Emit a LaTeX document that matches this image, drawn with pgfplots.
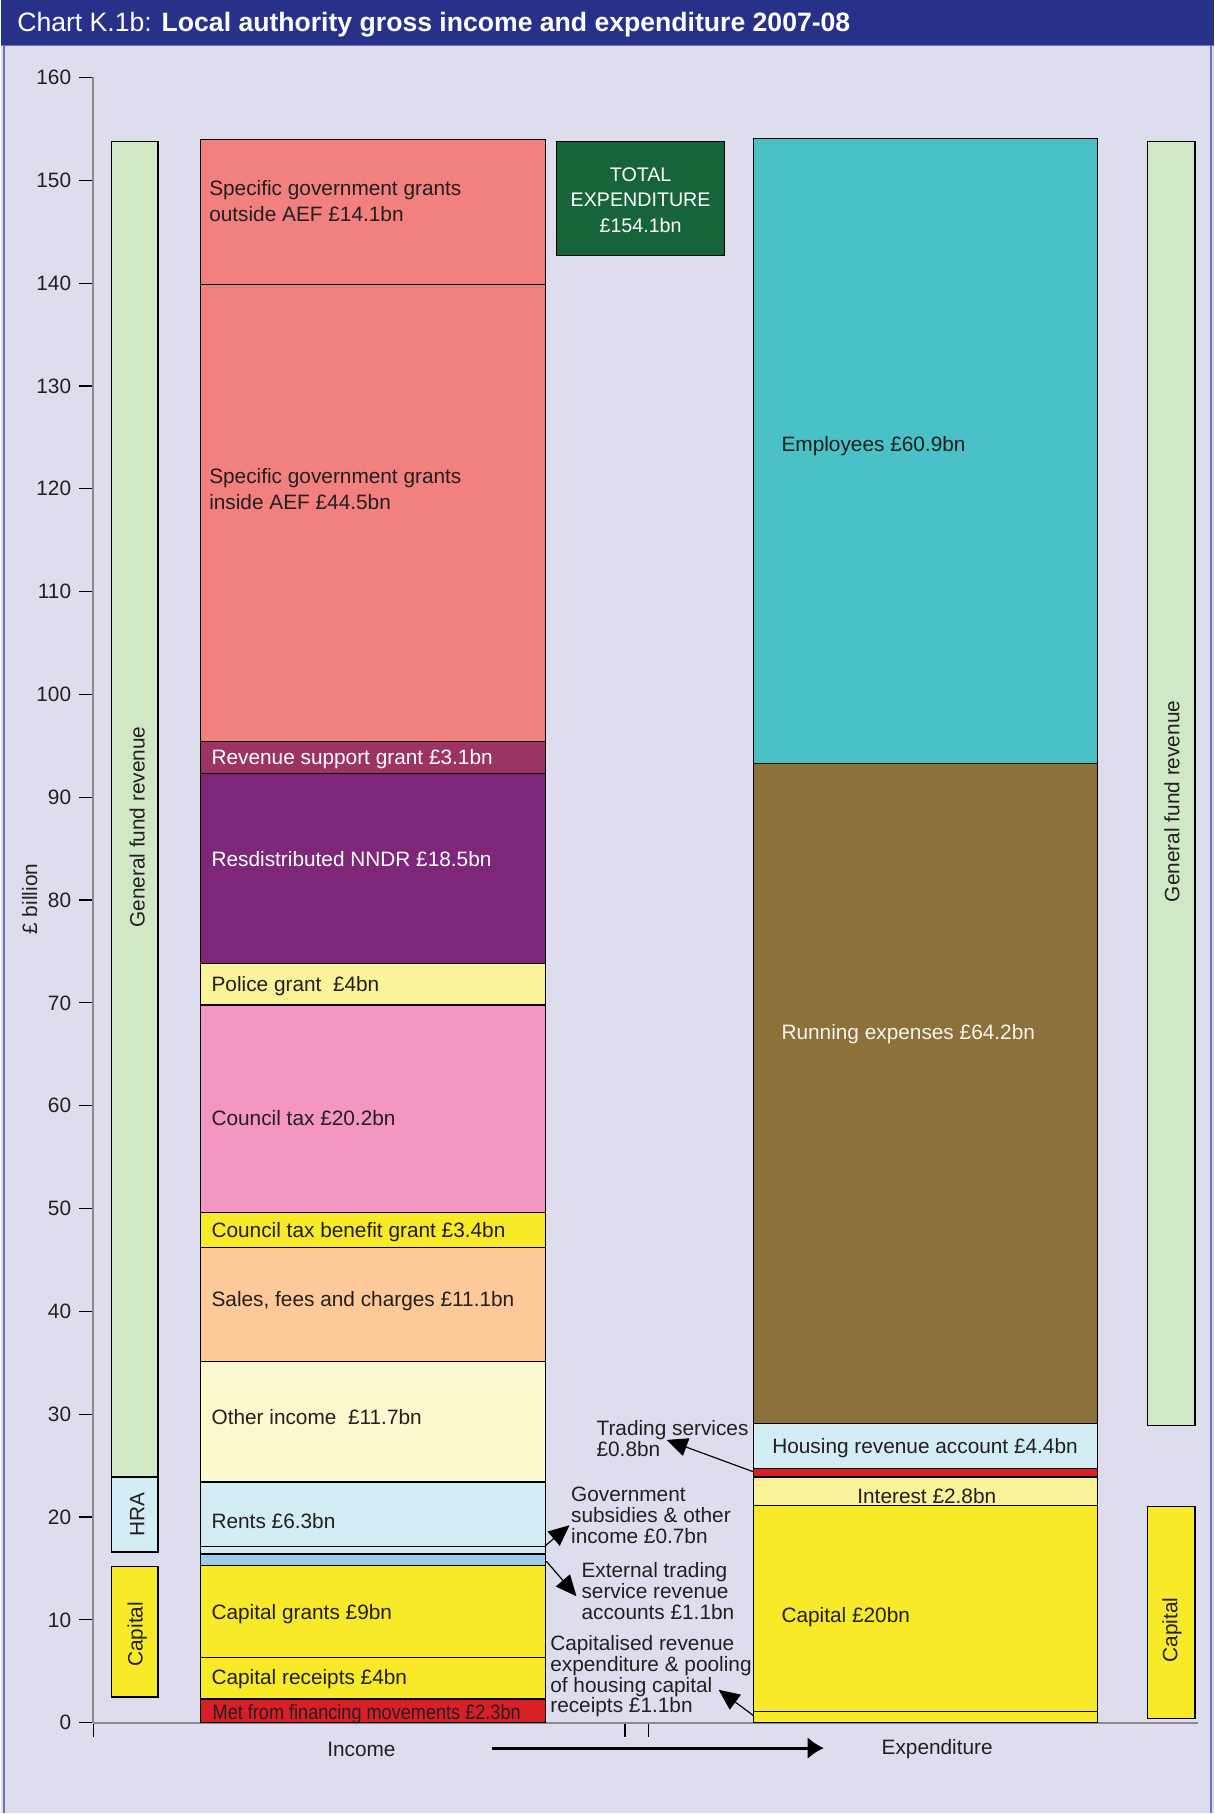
\documentclass[border=0pt]{standalone}
\usepackage{fontspec}
\setmainfont{Liberation Sans}
\usepackage{graphicx}
\usepackage{pgfplots}
\pgfplotsset{compat=1.18}
\usetikzlibrary{arrows.meta}
\definecolor{bg}{HTML}{DEDDEE}
\definecolor{titlebg}{HTML}{28318A}
\definecolor{bordercol}{HTML}{6E72B9}
\definecolor{axisgrey}{HTML}{8A8A8A}
\definecolor{txt}{HTML}{231F20}
\definecolor{salmon}{HTML}{F2807E}
\definecolor{rsg}{HTML}{9C3463}
\definecolor{nndr}{HTML}{7E2679}
\definecolor{lyellow}{HTML}{FAF39A}
\definecolor{cpink}{HTML}{F396C1}
\definecolor{yel}{HTML}{F8EA29}
\definecolor{peach}{HTML}{FDC998}
\definecolor{cream}{HTML}{FCF9CF}
\definecolor{lblue}{HTML}{D3EDF4}
\definecolor{mblue}{HTML}{9FCAEA}
\definecolor{cred}{HTML}{D91F26}
\definecolor{teal}{HTML}{49C1C6}
\definecolor{brown}{HTML}{8D703A}
\definecolor{lgreen}{HTML}{D1E8C6}
\definecolor{dgreen}{HTML}{17643A}
\tikzset{
  lbl/.style={anchor=west, inner sep=0, yshift=-1.5pt, font=\fontsize{9}{11}\selectfont, text=txt, align=left},
  ann/.style={anchor=west, inner sep=0, yshift=-0.7pt, font=\fontsize{9}{9}\selectfont, text=txt, align=left},
  rot/.style={rotate=90, inner sep=0, font=\fontsize{9}{11}\selectfont, text=txt},
  pointer/.style={black, line width=0.5pt, -{Triangle[length=9pt, width=8pt]}},
}
\newcommand{\seg}[5]{\addplot[fill=#1, draw=black, line width=0.5pt] coordinates {(#2,#4) (#3,#4) (#3,#5) (#2,#5)} -- cycle;}
\begin{document}
\begin{tikzpicture}
\fill[bg] (0,0) rectangle (524.5pt,-784pt);
\fill[titlebg] (0,0) rectangle (524.5pt,-19.75pt);
\draw[bordercol, line width=1pt] (1.5pt,-19.75pt) -- (1.5pt,-784pt);
\draw[bordercol, line width=1pt] (523.5pt,-19.75pt) -- (523.5pt,-784pt);
\draw[bordercol, line width=0.6pt] (0,-19.75pt) -- (524.5pt,-19.75pt);
\node[anchor=west, text=white, font=\fontsize{11.5}{13}\selectfont, inner sep=0] at (7pt,-10.5pt) {Chart K.1b: \textbf{Local authority gross income and expenditure 2007-08}};
\begin{axis}[
  at={(40pt,-745pt)}, anchor=south west,
  scale only axis, width=478pt, height=711.5pt,
  xmin=80, xmax=1036, ymin=0, ymax=160,
  axis x line=bottom, axis y line=left,
  axis line style={-, draw=axisgrey, line width=1pt},
  ytick={0,10,...,160},
  xtick={80,540,560}, xticklabels={},
  tick align=outside,
  major tick length=6pt,
  tick style={black, line width=0.5pt},
  yticklabel style={font=\fontsize{9}{11}\selectfont, text=txt},
  /pgf/number format/assume math mode=true,
  clip=false,
]
% left side bars
\seg{lgreen}{96}{136}{23.9}{153.8}
\seg{lblue}{96}{136}{16.6}{23.9}
\seg{yel}{96}{136}{2.5}{15.2}
% income bar
\seg{cred}{173}{471}{0}{2.3}
\seg{yel}{173}{471}{2.3}{6.3}
\seg{yel}{173}{471}{6.3}{15.3}
\seg{mblue}{173}{471}{15.3}{16.4}
\seg{lblue}{173}{471}{16.4}{17.1}
\seg{lblue}{173}{471}{17.1}{23.4}
\seg{cream}{173}{471}{23.4}{35.1}
\seg{peach}{173}{471}{35.1}{46.2}
\seg{yel}{173}{471}{46.2}{49.6}
\seg{cpink}{173}{471}{49.6}{69.8}
\seg{lyellow}{173}{471}{69.8}{73.8}
\seg{nndr}{173}{471}{73.8}{92.3}
\seg{rsg}{173}{471}{92.3}{95.4}
\seg{salmon}{173}{471}{95.4}{139.9}
\seg{salmon}{173}{471}{139.9}{154.0}
% total box
\seg{dgreen}{481}{626}{142.7}{153.8}
% expenditure bar
\seg{yel}{651}{949}{0}{1.1}
\seg{yel}{651}{949}{1.1}{21.1}
\seg{lyellow}{651}{949}{21.1}{23.9}
\seg{cred}{651}{949}{23.9}{24.7}
\seg{lblue}{651}{949}{24.7}{29.1}
\seg{brown}{651}{949}{29.1}{93.3}
\seg{teal}{651}{949}{93.3}{154.1}
% right side bars
\seg{lgreen}{992}{1033}{28.9}{153.8}
\seg{yel}{992}{1033}{0.4}{21.0}
% rotated labels
\node[rot] at (axis cs:118,87.1) {General fund revenue};
\node[rot] at (axis cs:118,20.2) {HRA};
\node[rot] at (axis cs:118,8.6) {Capital};
\node[rot] at (axis cs:1013,89.6) {General fund revenue};
\node[rot] at (axis cs:1013,9.0) {Capital};
\node[rot] at (axis cs:25,80.1) {£ billion};
% income labels
\node[lbl] at (axis cs:180,148.3) {Specific government grants\\outside AEF £14.1bn};
\node[lbl] at (axis cs:180,120.3) {Specific government grants\\inside AEF £44.5bn};
\node[lbl, text=white] at (axis cs:182,94.0) {Revenue support grant £3.1bn};
\node[lbl, text=white] at (axis cs:182,84.3) {Resdistributed NNDR £18.5bn};
\node[lbl] at (axis cs:182,72.0) {Police grant\ \ £4bn};
\node[lbl] at (axis cs:182,59.1) {Council tax £20.2bn};
\node[lbl] at (axis cs:182,48.0) {Council tax benefit grant £3.4bn};
\node[lbl] at (axis cs:182,41.3) {Sales, fees and charges £11.1bn};
\node[lbl] at (axis cs:182,30.1) {Other income\ \ £11.7bn};
\node[lbl] at (axis cs:182,19.9) {Rents £6.3bn};
\node[lbl] at (axis cs:182,10.9) {Capital grants £9bn};
\node[lbl] at (axis cs:182,4.6) {Capital receipts £4bn};
\node[lbl] at (axis cs:183,1.2) {\scalebox{0.87}[1]{Met from financing movements £2.3bn}};
% total
\node[inner sep=0, yshift=-0.5pt, font=\fontsize{8.5}{11}\selectfont, text=white, align=center] at (axis cs:553.5,148.2) {TOTAL\\EXPENDITURE\\£154.1bn};
% expenditure labels
\node[lbl] at (axis cs:675,124.5) {Employees £60.9bn};
\node[lbl, text={white!92!brown}] at (axis cs:675,67.3) {Running expenses £64.2bn};
\node[lbl] at (axis cs:667,27.0) {Housing revenue account £4.4bn};
\node[inner sep=0, yshift=-1.5pt, font=\fontsize{9}{11}\selectfont, text=txt] at (axis cs:801,22.4) {Interest £2.8bn};
\node[lbl] at (axis cs:675,10.6) {Capital £20bn};
% annotations
\node[ann] at (axis cs:515,27.77) {Trading services\\£0.8bn};
\node[ann] at (axis cs:493,20.35) {Government\\subsidies \& other\\income £0.7bn};
\node[ann] at (axis cs:502,12.93) {External trading\\service revenue\\accounts £1.1bn};
\node[ann] at (axis cs:475,4.67) {Capitalised revenue\\expenditure \& pooling\\of housing capital\\receipts £1.1bn};
\draw[pointer] (axis cs:651,24.4) -- (axis cs:576,27.5);
\draw[pointer] (axis cs:471,17.2) -- (axis cs:492,19.2);
\draw[pointer] (axis cs:472,15.7) -- (axis cs:498,12.3);
\draw[pointer] (axis cs:651,0.7) -- (axis cs:621,3.2);
% bottom
\node[inner sep=0, font=\fontsize{9}{11}\selectfont, text=txt] at (axis cs:312,-2.6) {Income};
\node[inner sep=0, font=\fontsize{9}{11}\selectfont, text=txt] at (axis cs:810,-2.6) {Expenditure};
\draw[black, line width=1.3pt, -{Latex[length=7pt, width=9.5pt]}] (axis cs:425,-2.47) -- (axis cs:712,-2.47);
\end{axis}
\end{tikzpicture}
\end{document}
